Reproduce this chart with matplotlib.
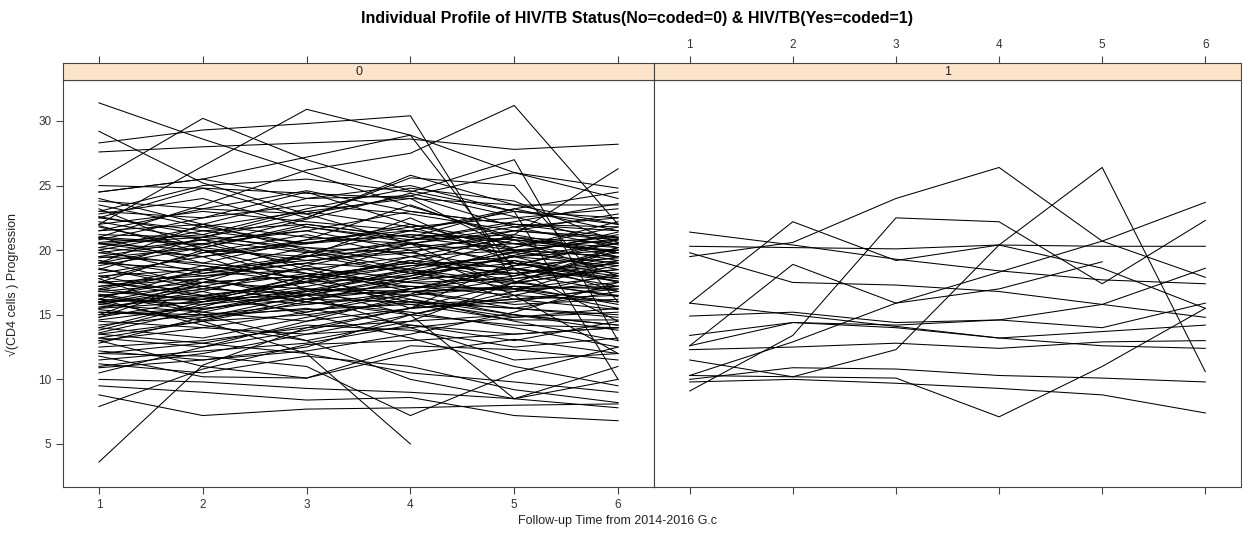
import numpy as np
import matplotlib.pyplot as plt

# follow-up visits
time = [1, 2, 3, 4, 5, 6]

# sqrt(CD4) profiles, HIV/TB = 0
group0 = [
    [31.4, 28.6, 26.0, 23.4, 21.0, 19.5],
    [29.2, 25.2, 22.8, 20.5, 19.0, 17.6],
    [28.3, 29.3, 29.8, 30.4, 17.5, 20.0],
    [27.6, 28.0, 28.3, 28.6, 27.8, 28.2],
    [25.5, 30.2, 27.0, 24.6, 23.0, 22.5],
    [22.0, 26.5, 30.9, 28.9, 26.0, 24.0],
    [21.0, 23.5, 26.2, 27.5, 31.2, 22.0],
    [24.5, 25.5, 27.2, 28.9, 18.5, 14.5],
    [3.6, 11.1, 14.0, 15.5, 16.2, 17.0],
    [13.5, 12.8, 12.0, 5.0, np.nan, np.nan],
    [8.8, 7.2, 7.7, 7.8, 8.0, 8.1],
    [12.0, 11.8, 11.0, 7.2, 10.5, 12.5],
    [10.0, 9.8, 9.3, 9.0, 8.5, 7.8],
    [9.5, 9.0, 8.4, 8.6, 7.2, 6.8],
    [10.9, 11.5, 12.5, 15.0, 8.5, 10.0],
    [7.9, 10.8, 12.7, 13.0, 13.5, 14.0],
    [11.8, 10.2, 10.1, 12.6, 12.3, 11.5],
    [13.0, 11.0, 10.1, 12.0, 13.1, 12.0],
    [17.8, 15.0, 13.0, 10.0, 8.5, 11.0],
    [16.0, 17.5, 18.0, 19.0, 21.2, 26.3],
    [20.5, 21.0, 22.5, 25.6, 25.0, 16.0],
    [22.5, 24.8, 22.5, 25.8, 23.5, 22.0],
    [24.5, 25.5, 24.0, 24.2, 26.0, 24.8],
    [23.0, 25.0, 25.5, 24.5, 27.0, 13.0],
    [19.0, 22.0, 24.0, 25.0, 23.0, 10.0],
    [25.0, 24.8, 24.4, 24.0, 23.5, 23.5],
    [23.8, 23.2, 24.6, 23.0, 22.0, 21.0],
    [11.2, 10.5, 11.8, 11.0, 9.2, 8.2],
    [13.2, 14.5, 12.0, 10.5, 9.8, 9.0],
    [15.5, 16.0, 16.8, 17.2, 17.0, 18.0],
    [16.2, 15.8, 16.5, 17.8, 18.2, 19.0],
    [20.5, 20.0, 19.5, 20.2, 21.0, 20.5],
    [21.5, 22.0, 21.0, 20.5, 19.8, 19.0],
    [19.0, 18.5, 19.2, 20.0, 20.5, 21.0],
    [17.5, 18.0, 18.5, 19.5, 20.0, 19.5],
    [16.8, 17.5, 17.0, 16.5, 17.8, 18.5],
    [15.0, 15.5, 16.2, 16.0, 15.5, 16.8],
    [14.2, 15.0, 15.8, 16.5, 17.2, 17.0],
    [13.5, 14.5, 15.0, 16.0, 15.5, 15.0],
    [22.5, 21.5, 22.0, 21.0, 20.0, 20.8],
    [23.0, 22.5, 23.5, 22.8, 21.5, 21.0],
    [18.2, 19.5, 20.5, 21.2, 20.8, 20.2],
    [16.0, 16.5, 17.5, 18.0, 19.5, 20.0],
    [12.5, 13.0, 14.0, 14.5, 15.0, 14.2],
    [11.0, 12.0, 13.5, 14.0, 14.8, 15.5],
    [20.0, 21.5, 20.5, 22.0, 20.0, 19.5],
    [17.0, 16.0, 17.2, 18.5, 17.5, 16.5],
    [15.8, 17.0, 18.2, 17.5, 16.8, 17.5],
    [21.0, 20.5, 21.5, 23.0, 22.0, 21.5],
    [19.5, 20.8, 19.8, 20.5, 21.8, 22.5],
    [18.5, 17.5, 18.0, 19.0, 18.2, 19.2],
    [16.5, 15.2, 14.5, 15.5, 16.0, 17.2],
    [14.8, 16.2, 17.5, 18.8, 19.5, 18.8],
    [13.0, 14.0, 13.5, 15.0, 16.5, 16.0],
    [22.0, 23.0, 22.2, 21.5, 23.0, 22.0],
    [20.2, 19.5, 20.8, 21.5, 20.5, 20.0],
    [17.2, 18.2, 19.0, 18.5, 19.8, 21.2],
    [15.2, 14.8, 15.5, 14.2, 13.5, 14.0],
    [12.0, 12.8, 14.2, 13.8, 12.5, 13.2],
    [16.4, 17.8, 16.2, 17.0, 18.5, 19.8],
    [19.8, 18.8, 17.8, 18.8, 19.2, 18.2],
    [21.8, 20.2, 19.2, 19.8, 18.5, 17.8],
    [23.5, 21.8, 20.5, 21.8, 22.5, 23.2],
    [14.0, 13.2, 14.8, 16.2, 14.5, 13.0],
    [18.0, 16.5, 15.8, 16.8, 17.2, 15.8],
    [16.0, 14.5, 16.0, 15.2, 14.0, 12.5],
    [20.8, 22.5, 24.5, 22.0, 20.5, 19.2],
    [17.8, 19.8, 21.2, 19.5, 18.0, 20.2],
    [15.5, 16.8, 18.8, 20.5, 21.5, 20.8],
    [19.2, 17.2, 16.0, 17.8, 19.5, 20.5],
    [22.8, 24.0, 21.8, 20.8, 21.2, 19.8],
    [13.8, 15.8, 17.0, 16.8, 15.8, 16.2],
    [11.5, 12.2, 12.8, 14.2, 13.0, 14.5],
    [16.8, 16.2, 18.0, 20.5, 17.0, 16.0],
    [18.8, 20.2, 22.0, 21.0, 23.2, 21.5],
    [20.0, 18.2, 19.5, 22.5, 19.0, 18.0],
    [15.2, 15.0, 15.4, 15.8, 16.2, 16.5],
    [16.0, 16.2, 16.5, 16.8, 17.0, 17.2],
    [14.5, 14.0, 15.2, 17.0, 18.0, 19.5],
    [21.2, 21.0, 20.2, 19.0, 18.2, 16.8],
    [17.0, 18.8, 17.8, 16.2, 15.0, 14.2],
    [19.5, 19.0, 18.2, 17.5, 17.8, 19.0],
    [13.2, 12.5, 13.8, 15.5, 17.5, 18.5],
    [24.0, 22.0, 20.0, 18.5, 17.0, 15.5],
    [10.5, 12.5, 14.5, 16.5, 15.0, 13.8],
    [12.8, 14.8, 16.5, 14.0, 11.5, 12.0],
    [18.5, 21.0, 23.0, 24.0, 20.0, 18.5],
    [14.8, 17.5, 19.8, 21.5, 23.2, 24.5],
    [20.5, 19.5, 17.0, 15.0, 14.2, 14.0],
    [17.5, 16.8, 15.0, 13.2, 11.0, 9.5],
    [16.2, 18.5, 20.2, 19.8, 21.5, 22.8],
    [21.5, 23.2, 22.8, 24.2, 21.8, 20.2],
    [15.8, 15.2, 16.8, 18.2, 19.0, 17.8],
    [19.0, 20.5, 18.8, 17.0, 18.8, 20.8],
    [17.2, 17.8, 19.5, 20.8, 22.0, 21.8],
    [22.2, 20.8, 18.5, 16.8, 15.5, 14.8],
    [14.0, 16.0, 18.0, 17.2, 16.5, 18.2],
    [16.5, 17.2, 16.0, 15.0, 16.8, 19.2],
    [20.2, 21.8, 23.0, 21.8, 19.5, 17.5],
    [18.0, 18.5, 17.5, 16.0, 14.8, 15.2],
    [12.2, 11.5, 12.2, 13.5, 15.2, 17.5],
    [15.0, 17.8, 16.5, 18.0, 20.2, 22.2],
    [19.8, 20.8, 21.5, 20.0, 16.5, 12.0],
    [23.2, 20.0, 17.5, 19.5, 21.0, 19.8],
    [16.2, 14.2, 13.0, 14.5, 17.5, 20.2],
    [21.0, 19.0, 20.8, 23.5, 20.8, 18.0],
    [17.5, 20.0, 18.2, 15.5, 19.2, 16.8],
    [15.6, 16.4, 15.2, 16.6, 18.8, 20.6],
    [16.6, 15.4, 16.9, 18.4, 16.2, 15.4],
    [15.9, 17.2, 18.6, 17.8, 19.6, 21.4],
    [20.6, 21.2, 19.9, 18.2, 19.9, 20.9],
    [19.4, 20.2, 21.8, 20.6, 18.8, 19.4],
    [21.9, 19.8, 20.6, 21.2, 20.2, 21.8],
    [14.6, 15.6, 17.8, 19.2, 17.6, 16.4],
    [16.9, 18.4, 19.6, 18.2, 17.4, 18.8],
    [20.9, 20.4, 22.4, 24.4, 22.6, 20.4],
    [18.6, 17.0, 16.6, 18.6, 20.8, 19.8],
    [15.4, 14.6, 16.2, 17.6, 18.6, 17.2],
    [13.6, 15.4, 16.6, 15.8, 14.6, 14.6],
    [19.2, 18.0, 19.0, 20.8, 22.2, 23.6],
    [22.6, 21.2, 23.2, 24.8, 23.8, 20.6],
    [17.6, 16.4, 17.6, 19.2, 18.6, 17.6],
]

# sqrt(CD4) profiles, HIV/TB = 1
group1 = [
    [21.4, 20.4, 19.3, 18.4, 17.7, 17.4],
    [20.3, 20.2, 20.1, 20.4, 20.3, 20.3],
    [19.5, 20.6, 24.0, 26.4, 20.7, 17.9],
    [9.1, 13.4, 22.5, 22.2, 17.4, 22.3],
    [15.9, 22.2, 19.2, 20.4, 18.6, 15.5],
    [19.8, 17.5, 17.3, 16.8, 15.8, 14.8],
    [12.6, 18.9, 15.9, 18.3, 20.7, 23.7],
    [11.5, 10.2, 12.3, 20.4, 26.4, 10.6],
    [14.9, 15.2, 14.4, 14.6, 14.0, 15.9],
    [13.4, 14.4, 14.0, 13.2, 13.7, 14.2],
    [10.3, 10.2, 10.1, 7.1, 11.0, 15.5],
    [10.0, 10.9, 10.8, 10.3, 10.1, 9.8],
    [9.8, 10.0, 9.7, 9.3, 8.8, 7.4],
    [12.3, 12.5, 12.8, 12.4, 12.9, 13.0],
    [15.9, 15.0, 14.1, 13.2, 12.6, 12.4],
    [12.6, 14.4, 14.2, 14.6, 15.8, 18.6],
    [10.3, 12.9, 15.9, 17.0, 19.1, np.nan],
]

plt.rcParams['font.family'] = ['Liberation Sans', 'DejaVu Sans']

fig = plt.figure(figsize=(12.42, 5.33), dpi=100)
W, H = 1242, 533
left, mid, right = 63 / W, 654 / W, 1241 / W
bot, top, strip_top = 1 - 487 / H, 1 - 80 / H, 1 - 63 / H

ax0 = fig.add_axes([left, bot, mid - left, top - bot])
ax1 = fig.add_axes([mid, bot, right - mid, top - bot])
st0 = fig.add_axes([left, top, mid - left, strip_top - top])
st1 = fig.add_axes([mid, top, right - mid, strip_top - top])

frame = '#444444'
tick_kw = dict(direction='out', length=5, width=0.8, colors=frame,
               labelsize=8.5, labelcolor='#333333')

for ax, profiles in ((ax0, group0), (ax1, group1)):
    for p in profiles:
        ax.plot(time, p, color='black', lw=0.75)
    ax.set_xlim(0.654, 6.346)
    ax.set_ylim(1.67, 33.17)
    ax.set_xticks(time)
    for s in ax.spines.values():
        s.set_color(frame)
        s.set_linewidth(0.8)
    ax.tick_params(**tick_kw)

ax0.set_yticks([5, 10, 15, 20, 25, 30])
ax1.set_yticks([])
ax1.set_xticklabels([])

for st, lab, show in ((st0, '0', False), (st1, '1', True)):
    st.set_facecolor('#fde3c8')
    st.set_xlim(0.654, 6.346)
    st.set_ylim(0, 1)
    st.set_yticks([])
    st.set_xticks(time)
    st.xaxis.tick_top()
    st.tick_params(**tick_kw)
    if not show:
        st.set_xticklabels([])
    for s in st.spines.values():
        s.set_color(frame)
        s.set_linewidth(0.8)
    st.text(0.5, 0.45, lab, transform=st.transAxes, ha='center',
            va='center', fontsize=9, color='#222222')

fig.text(637 / W, 1 - 18 / H,
         'Individual Profile of HIV/TB Status(No=coded=0) & HIV/TB(Yes=coded=1)',
         ha='center', va='center', fontsize=11.5, fontweight='bold')
fig.text(617 / W, 1 - 521 / H, 'Follow-up Time from 2014-2016 G.c',
         ha='center', va='center', fontsize=9, color='#222222')
fig.text(12 / W, 1 - 285 / H, '\u221a(CD4 cells ) Progression',
         ha='center', va='center', rotation=90, fontsize=9, color='#222222')

fig.savefig('out.png', dpi=100)
